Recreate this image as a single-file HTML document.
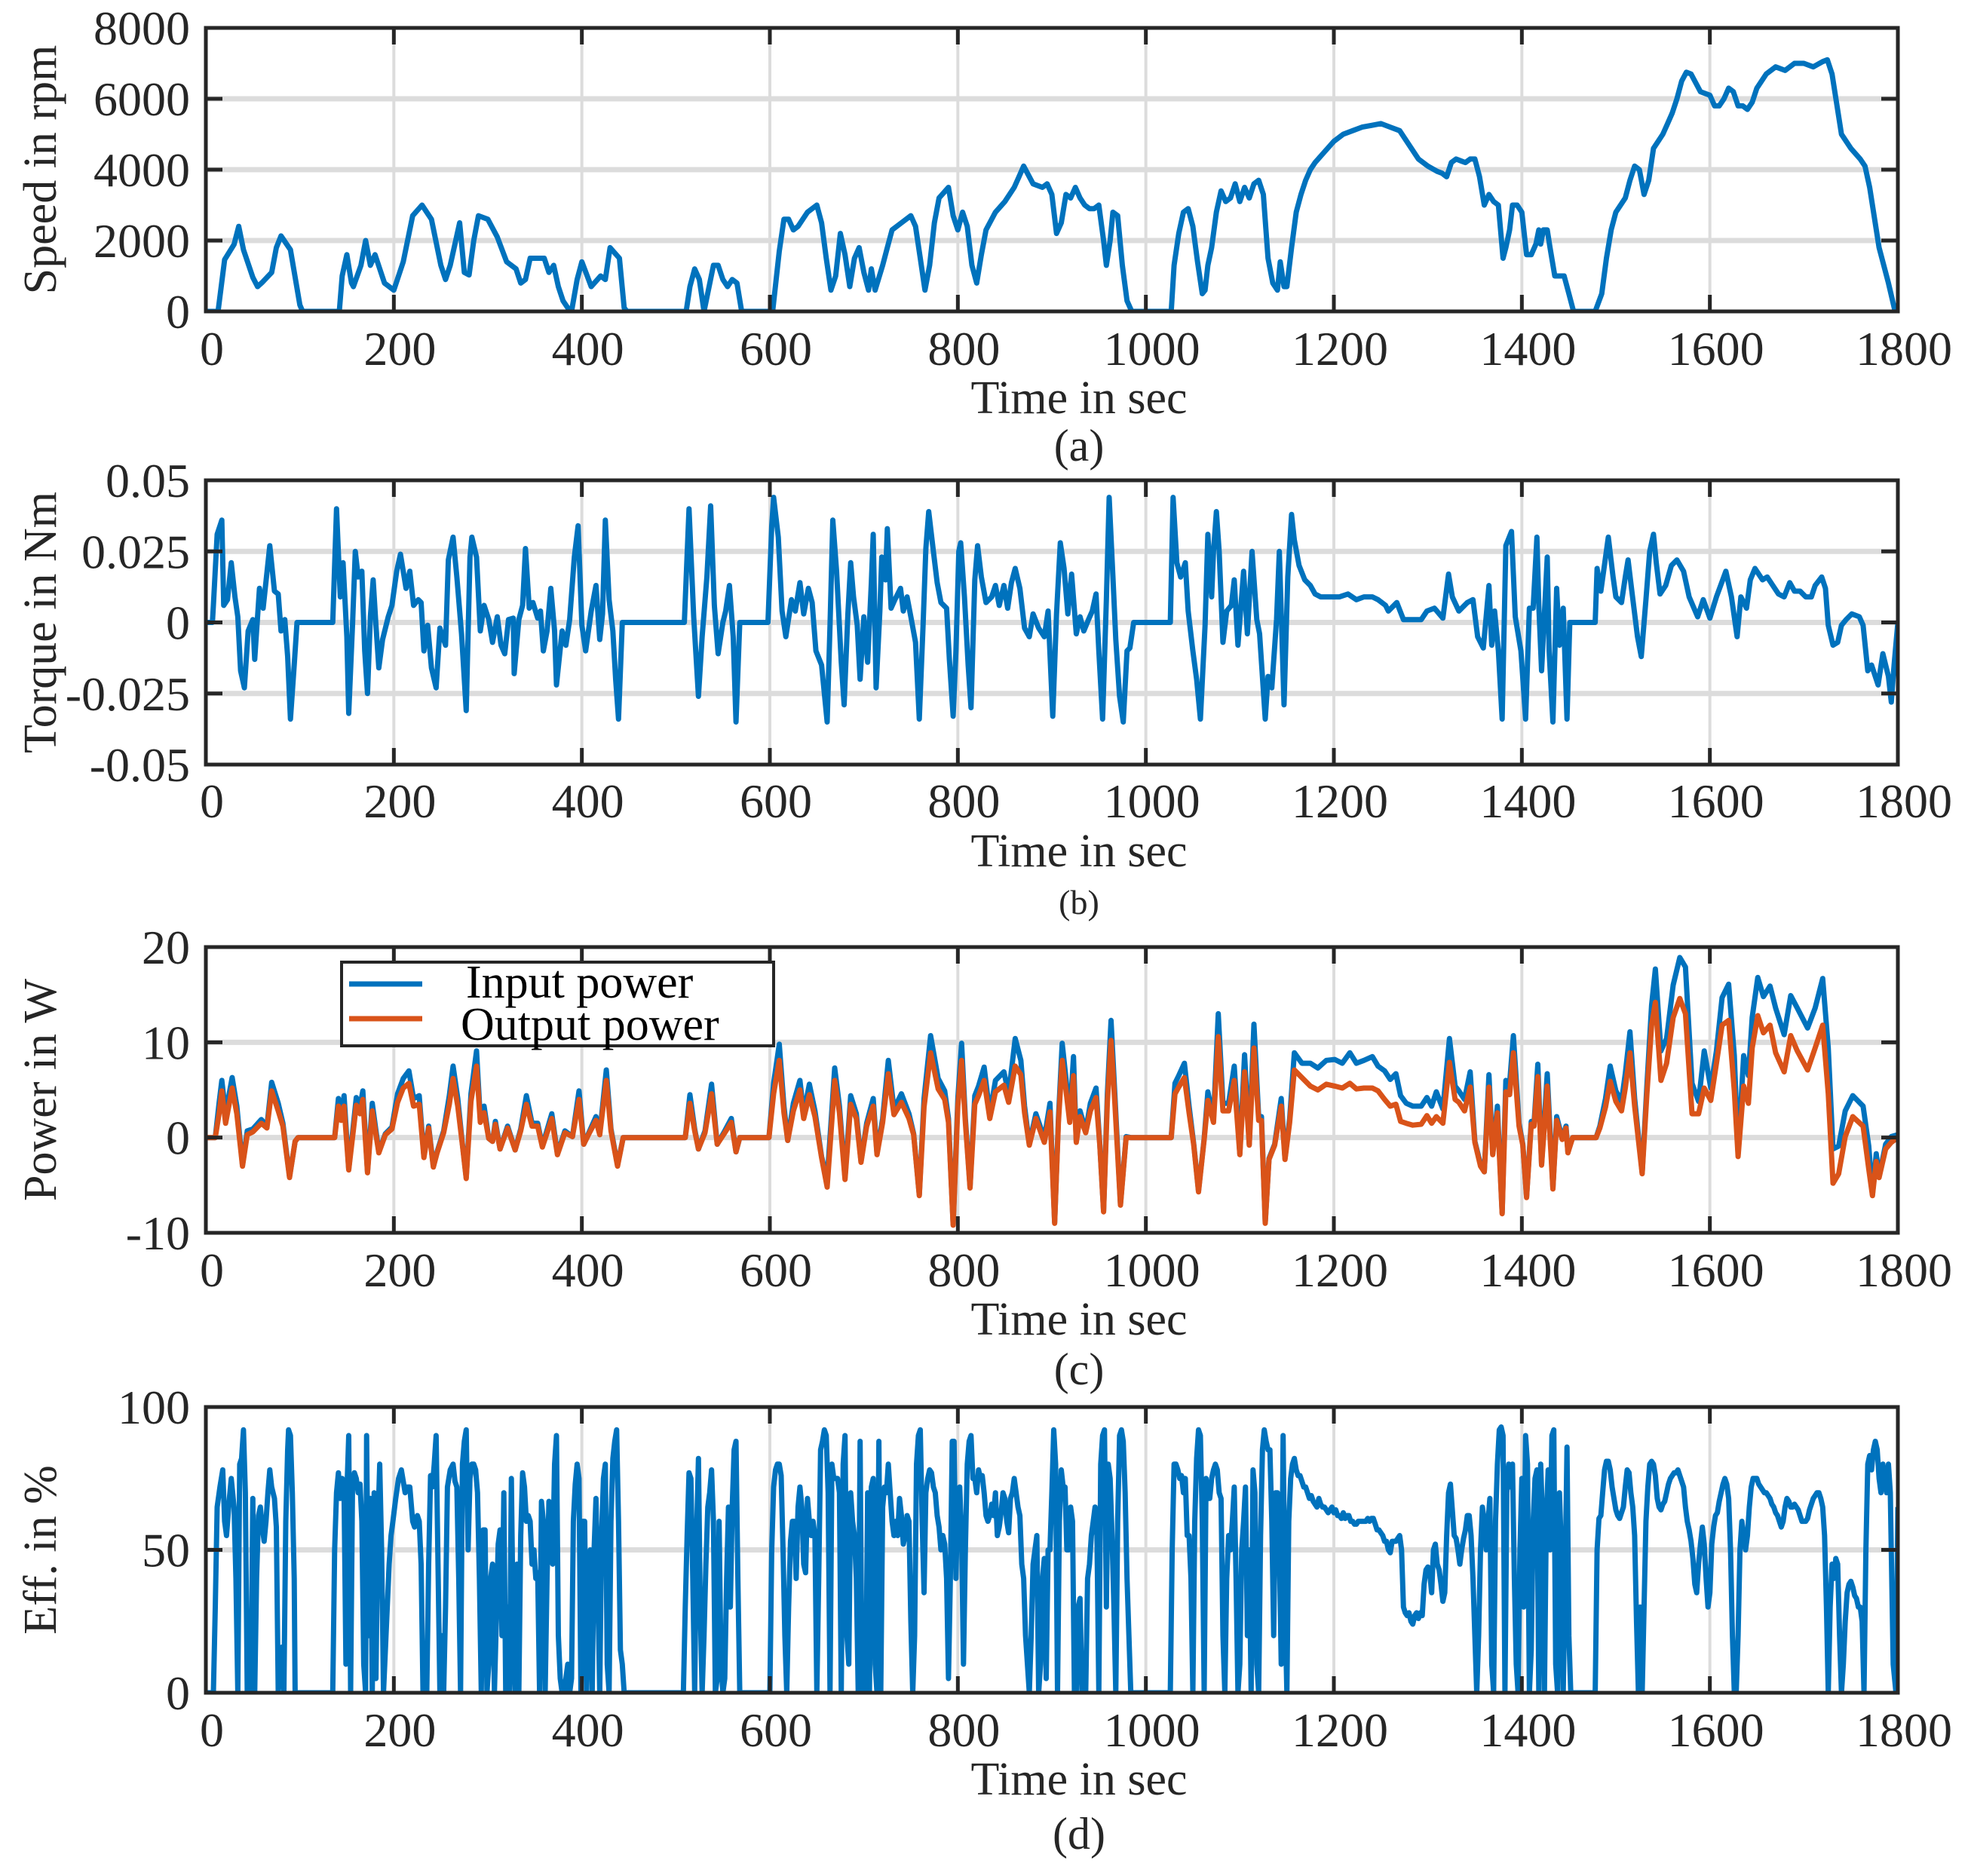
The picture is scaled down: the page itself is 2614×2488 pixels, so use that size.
<!DOCTYPE html>
<html><head><meta charset="utf-8"><style>
html,body{margin:0;padding:0;background:#fff;}
svg{display:block;font-family:"Liberation Serif","Times New Roman",serif;}
</style></head><body>
<svg id="fig" width="2614" height="2488" viewBox="0 0 2614 2488" xmlns="http://www.w3.org/2000/svg">
<rect width="2614" height="2488" fill="#fff"/>
</svg>
<script>
// ---- data ----
const xTicks = [0,200,400,600,800,1000,1200,1400,1600,1800];
const speedTicks = [0,2000,4000,6000,8000];
const torqueTicks = [-50,-25,0,25,50];
const torqueTickLabels = ["-0.05","-0.025","0","0.025","0.05"];
const powerTicks = [-10,0,10,20];
const effTicks = [0,50,100];

const speedData = [[0,0],[10,0],[13,0],[20,1460],[30,1890],[35,2400],[40,1740],[50,960],[55,700],[60,820],[70,1100],[75,1800],[80,2130],[90,1740],[100,180],[103,0],[140,0],[142,0],[145,1000],[150,1600],[155,800],[157,700],[165,1300],[170,2000],[175,1300],[180,1600],[190,800],[200,600],[210,1400],[220,2700],[230,3000],[240,2600],[250,1300],[255,900],[260,1300],[270,2500],[275,1100],[280,1030],[285,2000],[290,2700],[300,2600],[310,2100],[320,1400],[330,1200],[335,800],[340,900],[345,1500],[350,1500],[360,1500],[365,1100],[370,1300],[375,700],[380,300],[385,100],[389,0],[395,900],[400,1400],[410,700],[420,1000],[425,900],[430,1800],[440,1500],[445,100],[448,0],[511,0],[515,700],[520,1200],[525,900],[530,0],[540,1300],[545,1300],[550,900],[555,700],[560,900],[565,800],[570,0],[603,0],[610,1700],[615,2600],[620,2600],[625,2300],[630,2400],[640,2800],[650,3000],[655,2500],[660,1500],[665,600],[670,1000],[675,2200],[680,1600],[685,700],[690,1500],[695,1800],[700,1100],[705,600],[708,1200],[712,600],[720,1300],[725,1800],[730,2300],[740,2500],[750,2700],[755,2400],[760,1500],[765,600],[770,1300],[775,2500],[780,3200],[790,3500],[795,2700],[800,2300],[805,2800],[810,2400],[815,1300],[820,800],[825,1600],[830,2300],[840,2800],[850,3100],[860,3500],[865,3800],[870,4100],[880,3600],[890,3500],[895,3600],[900,3300],[905,2200],[910,2500],[915,3300],[920,3200],[925,3500],[930,3200],[935,3000],[940,2900],[945,2900],[950,3000],[955,2000],[958,1300],[962,2000],[965,2800],[970,2700],[975,1300],[980,300],[985,0],[1027,0],[1030,1300],[1035,2200],[1040,2800],[1045,2900],[1050,2400],[1055,1400],[1060,500],[1063,600],[1066,1300],[1070,1800],[1075,2800],[1080,3400],[1085,3100],[1090,3200],[1095,3600],[1100,3100],[1105,3500],[1110,3200],[1115,3600],[1120,3700],[1125,3300],[1130,1500],[1135,800],[1140,600],[1143,1400],[1147,700],[1150,700],[1155,1800],[1160,2800],[1165,3300],[1170,3700],[1175,4000],[1180,4200],[1190,4500],[1200,4800],[1210,5000],[1220,5100],[1230,5200],[1240,5250],[1250,5300],[1260,5200],[1270,5100],[1280,4700],[1290,4300],[1300,4100],[1310,3950],[1315,3900],[1320,3800],[1325,4200],[1330,4300],[1335,4250],[1340,4200],[1345,4300],[1350,4300],[1355,3800],[1360,3000],[1365,3300],[1370,3100],[1375,3000],[1380,1500],[1383,1800],[1387,2300],[1390,3000],[1395,3000],[1400,2800],[1405,1600],[1410,1600],[1415,1900],[1418,2300],[1420,1900],[1423,2300],[1427,2300],[1430,1800],[1435,1000],[1440,1000],[1445,1000],[1450,500],[1455,0],[1478,0],[1485,500],[1490,1500],[1495,2300],[1500,2800],[1510,3200],[1515,3700],[1520,4100],[1525,4000],[1530,3300],[1535,3700],[1540,4600],[1545,4800],[1550,5000],[1555,5300],[1560,5600],[1565,6000],[1570,6500],[1575,6750],[1580,6700],[1590,6200],[1600,6100],[1605,5800],[1610,5800],[1615,6000],[1620,6300],[1625,6200],[1630,5800],[1635,5800],[1640,5700],[1645,5900],[1650,6300],[1660,6700],[1670,6900],[1680,6800],[1690,7000],[1700,7000],[1710,6900],[1720,7050],[1725,7100],[1730,6700],[1740,5000],[1750,4600],[1760,4300],[1765,4100],[1770,3500],[1780,1800],[1790,800],[1797,0],[1800,0]];

// torque in thousandths of N·m
const torqueMilli = [[0,0],[7,0],[8,6],[12,31],[17,36],[19,6],[23,8],[27,21],[31,9],[34,2],[37,-17],[41,-23],[45,-3],[50,1],[52,-13],[57,12],[61,5],[68,27],[73,11],[77,10],[80,-3],[84,1],[87,-12],[90,-34],[94,-15],[97,0],[135,0],[139,40],[143,9],[146,21],[150,-5],[152,-32],[156,-1],[159,25],[162,16],[166,18],[169,-10],[172,-25],[175,2],[178,15],[181,-1],[184,-16],[188,-6],[194,2],[198,6],[203,18],[207,24],[213,12],[217,18],[221,6],[226,8],[229,7],[232,-10],[236,-1],[240,-16],[245,-23],[249,-2],[255,-8],[258,22],[263,30],[267,16],[272,-4],[277,-31],[281,23],[283,30],[288,23],[292,-3],[296,6],[301,1],[305,-7],[310,2],[314,-8],[318,-11],[322,1],[327,1.5],[328,-18],[333,1],[337,6],[340,26],[344,5],[348,7],[353,1.5],[356,4],[359,-10],[363,-3],[367,12],[371,-3],[373,-22],[379,-3],[383,-8],[387,1],[392,23],[396,34],[400,-1],[404,-10],[410,4],[415,13],[419,-6],[422,3],[425,36],[429,8],[433,-3],[436,-20],[439,-34],[443,0],[509,0],[514,40],[519,2],[524,-26],[528,-5],[533,16],[537,41],[541,6],[545,-11],[550,0],[553,4],[557,13],[561,-5],[564,-35],[568,0],[598,0],[602,34],[604,44],[609,30],[613,4],[617,-5],[623,8],[627,4],[632,14],[636,3],[641,12],[645,7],[649,-10],[655,-15],[661,-35],[664,-1],[667,36],[671,18],[676,-14],[679,-29],[683,3],[686,21],[689,9],[693,-1],[696,-20],[700,2],[704,-14],[708,14],[710,31],[713,-23],[717,4],[719,23],[723,15],[725,33],[729,5],[733,8],[739,12],[742,4],[746,9],[750,2],[755,-7],[759,-34],[763,-1],[766,26],[769,39],[774,25],[778,14],[782,7],[788,5],[791,-13],[795,-33],[798,-10],[801,25],[803,28],[807,9],[811,-15],[814,-30],[818,15],[821,27],[825,16],[830,7],[836,9],[840,13],[844,6],[849,13],[853,5],[857,14],[861,19],[866,12],[871,-2],[876,-5],[880,3],[886,-2],[892,-5],[896,4],[901,-33],[905,3],[909,28],[913,19],[917,3],[921,17],[926,-4],[930,2],[934,-3],[939,1],[943,4],[947,10],[950,-10],[954,-34],[958,8],[961,44],[965,16],[968,-6],[972,-26],[976,-35],[980,-10],[983,-9],[987,0],[1026,0],[1029,44],[1033,21],[1037,16],[1042,21],[1045,4],[1050,-10],[1054,-20],[1058,-34],[1063,-1],[1066,31],[1070,9],[1072,25],[1075,39],[1078,25],[1082,-7],[1086,4],[1091,6],[1094,15],[1098,-8],[1104,18],[1108,-4],[1113,25],[1118,1],[1121,-4],[1127,-34],[1130,-19],[1134,-23],[1139,1],[1142,25],[1147,-29],[1151,16],[1155,38],[1158,29],[1163,20],[1169,15],[1175,13],[1180,10],[1186,9],[1192,9],[1198,9],[1206,9],[1215,10],[1224,8],[1232,9],[1241,9],[1247,8],[1255,6],[1258,4],[1267,7],[1274,1],[1284,1],[1293,1],[1299,4],[1307,5],[1316,1.5],[1322,17],[1326,9],[1333,4],[1342,7],[1348,8],[1353,-5],[1359,-9],[1362,2],[1365,13],[1368,-8],[1371,4],[1375,-10],[1379,-34],[1383,27],[1389,32],[1393,2],[1399,-10],[1404,-34],[1408,5],[1412,5],[1416,30],[1418,6],[1421,-17],[1427,23],[1429,-10],[1433,-35],[1437,12],[1440,-8],[1444,5],[1448,-34],[1451,0],[1478,0],[1480,19],[1484,11],[1492,30],[1497,16],[1500,9],[1506,7],[1510,16],[1513,22],[1517,11],[1523,-5],[1527,-12],[1532,8],[1536,25],[1540,31],[1543,21],[1547,10],[1553,13],[1559,20],[1565,22],[1572,18],[1578,9],[1587,2],[1593,8],[1600,1.5],[1607,9],[1617,18],[1623,9],[1629,-5],[1633,9],[1639,5],[1643,15],[1648,19],[1656,15],[1661,16],[1667,13],[1673,10],[1679,9],[1685,14],[1690,11],[1696,11],[1702,9],[1708,9],[1712,13],[1719,16],[1723,12],[1726,-1],[1731,-8],[1736,-7],[1740,-1],[1745,1],[1751,3],[1759,2],[1763,-1],[1768,-17],[1772,-15],[1779,-22],[1784,-11],[1790,-19],[1793,-28],[1796,-15],[1800,0]];

// [time, input power, output power]
const powerSamples = [[0,0,0],[10,0,0],[14,3.6,2.5],[17,6,4.9],[21,2.5,1.5],[28,6.3,5.2],[33,3.3,2.5],[39,-2.9,-3],[44,0.7,0.3],[50,0.9,0.6],[59,1.9,1.5],[65,1.2,1],[70,5.8,4.9],[77,3.6,2.8],[82,1.5,1.2],[89,-4.1,-4.2],[95,-0.4,-0.4],[98,0,0],[137,0,0],[141,4.1,3.3],[144,2.2,1.8],[147,4.4,3.3],[152,-3.3,-3.4],[160,4.2,3.4],[164,3.3,2.5],[167,4.9,4],[172,-3.6,-3.7],[177,3.6,2.8],[184,-1.5,-1.6],[191,0.4,0.3],[198,1.1,0.9],[204,4.6,3.7],[210,6.2,5.2],[216,7,5.7],[221,4.1,3.3],[227,4.4,3.5],[232,-2,-2.1],[237,1.2,1],[242,-3,-3.1],[246,-1.5,-1.6],[253,0.7,0.5],[259,4.4,3.5],[263,7.5,6.2],[268,4.1,3.3],[273,-0.7,-0.8],[277,-4.2,-4.3],[282,4.6,3.8],[288,9.1,7.5],[292,2,1.6],[296,3.3,2.6],[301,-0.1,-0.1],[305,-0.4,-0.4],[308,1.7,1.4],[313,-1.2,-1.2],[321,1.2,1],[329,-1.3,-1.3],[335,0.9,0.7],[341,4.4,3.5],[347,1.5,1.2],[353,1.5,1.2],[358,-0.9,-1],[368,2.5,2],[374,-1.7,-1.8],[382,0.7,0.5],[390,0.1,0.1],[397,4.9,4],[402,-0.7,-0.7],[407,0.4,0.3],[415,2.2,1.8],[419,0.4,0.3],[426,7.1,6],[431,0.9,0.7],[438,-2.9,-3],[444,0,0],[510,0,0],[515,4.5,3.6],[520,0.9,0.7],[524,-1.2,-1.2],[531,0.7,0.5],[538,5.6,4.6],[544,-0.7,-0.7],[552,0.7,0.5],[559,2,1.6],[564,-1.5,-1.5],[568,0,0],[599,0,0],[604,5.7,4.6],[610,9.8,8.1],[615,3.3,2.6],[619,-0.3,-0.3],[625,3.6,2.8],[632,6,5],[636,2.5,2],[642,5.6,4.5],[648,2.8,2.2],[655,-2,-2.1],[661,-4.4,-5.2],[669,7.3,6],[674,3.3,2.6],[680,-4.2,-4.4],[686,4.4,3.5],[692,2.5,2],[697,-2.5,-2.6],[703,1.5,1.2],[710,4.1,3.3],[714,-1.7,-1.8],[720,2,1.6],[726,8.1,6.7],[732,3,2.4],[740,4.6,3.7],[748,2.5,2],[753,0.4,0.3],[759,-6,-6.1],[764,4.1,3.2],[771,10.7,8.9],[779,6.2,5.1],[786,4.9,4],[790,2,1.6],[795,-9.1,-9.2],[800,4.1,3.3],[804,9.9,8.1],[808,2,1.6],[813,-5.2,-5.3],[818,4.4,3.5],[822,5.4,4.4],[828,7.4,6],[834,2.5,2],[840,6,4.8],[849,6.9,5.5],[854,4.6,3.7],[861,10.4,7.5],[867,8.1,6.6],[871,3.3,2.6],[876,-0.7,-0.8],[883,2.5,2],[892,-0.1,-0.5],[898,3.6,2.7],[903,-8.9,-9],[907,2,1.6],[911,9.9,8.1],[915,6.2,5],[919,2,1.6],[923,8.5,6.5],[926,-0.4,-0.5],[930,2.8,2.2],[936,0.7,0.5],[941,3.6,2.8],[947,5.2,4.2],[951,-0.7,-0.8],[955,-7.7,-7.8],[959,4.6,3.7],[963,12.3,10.2],[967,4.6,3.7],[973,-7,-7.1],[979,0.1,0],[984,0,0],[1027,0,0],[1031,5.7,4.6],[1035,6.5,5.3],[1041,7.8,6.3],[1046,3.3,2.6],[1051,-0.7,-0.8],[1056,-5.6,-5.7],[1062,-0.1,-0.2],[1066,4.8,3.9],[1072,2,1.6],[1077,13,10.6],[1082,3.6,2.8],[1088,3.6,2.8],[1094,7.5,6],[1100,-1.7,-1.8],[1105,8.7,6.9],[1110,-0.7,-0.8],[1115,11.9,9.4],[1120,2.2,1.8],[1123,2.2,1.8],[1127,-8.9,-9],[1131,-2.2,-2.3],[1137,-0.7,-0.8],[1144,4.1,3.3],[1148,-2.2,-2.3],[1153,2,1.6],[1158,8.9,7.1],[1166,7.8,6.3],[1175,7.8,5.4],[1183,7.3,5],[1192,8.1,5.6],[1201,8.2,5.4],[1209,7.8,5.2],[1217,8.9,5.7],[1224,7.8,5.1],[1232,8.1,5.2],[1241,8.5,5.2],[1247,7.5,4.9],[1254,7,4],[1260,6.1,3.3],[1266,6.7,3.5],[1271,4.4,1.7],[1277,3.6,1.5],[1284,3.3,1.3],[1293,3.3,1.4],[1299,4.2,2.3],[1304,3.3,1.5],[1309,4.8,2.2],[1316,3,1.5],[1323,10.4,7.9],[1329,5.4,4],[1333,4.9,3.7],[1339,4,2.8],[1345,6.9,5.3],[1350,-0.4,-0.5],[1356,-2.8,-3],[1360,-3.6,-3.6],[1365,6.6,5.3],[1369,-1.7,-1.8],[1374,3.3,2.6],[1379,-7.9,-8],[1383,6,4.8],[1387,5.7,4.5],[1391,10.7,8.9],[1397,1.5,1.2],[1401,-0.7,-0.8],[1405,-6.2,-6.3],[1410,1.7,1.4],[1413,1.5,1.2],[1417,7.7,6.4],[1421,-2.8,-2.9],[1427,6.7,5.4],[1433,-5.3,-5.4],[1437,2.2,1.8],[1443,-0.1,-0.2],[1447,1.2,1],[1449,-1.5,-1.6],[1454,0,0],[1479,0,0],[1483,1.2,1],[1489,4.1,3.2],[1494,7.5,5.9],[1500,4.9,3.8],[1506,3.8,2.8],[1510,6.7,5.2],[1515,11.1,8.9],[1520,4.1,3.3],[1528,-3.7,-3.8],[1533,5.4,4.5],[1538,13.9,11.8],[1542,17.7,14.2],[1548,9.1,6],[1554,10.4,7.8],[1561,16,12.6],[1568,18.9,14.6],[1574,17.9,13],[1581,5.7,2.5],[1588,3.8,2.5],[1594,9.1,5.2],[1601,5.2,3.9],[1607,9.1,7.8],[1613,14.7,11.8],[1620,16.1,12.3],[1626,8.6,4.9],[1630,-1.7,-2],[1636,8.6,5.4],[1641,6.5,3.6],[1645,12.6,9.4],[1651,16.8,12.8],[1657,14.8,11],[1664,15.9,11.8],[1670,13.6,8.9],[1679,10.8,6.9],[1686,14.9,10.7],[1693,13.6,9.1],[1704,11.5,7.1],[1712,13.6,9.4],[1720,16.7,11.8],[1726,9.4,4.6],[1731,-1.2,-4.8],[1737,-0.9,-3.8],[1744,2.8,0.1],[1752,4.4,2.2],[1763,3.3,1.2],[1769,-0.9,-3.3],[1773,-6,-6.1],[1777,-1.7,-2.5],[1780,-4.1,-4.2],[1787,-0.7,-1.2],[1793,0.1,-0.5],[1800,0.3,0]];

const effData = [[0,0],[8,0],[10,30],[12,65],[15,72],[18,78],[20,60],[22,55],[25,68],[27,75],[30,65],[32,40],[34,0],[36,80],[38,82],[40,92],[42,70],[44,0],[46,10],[48,0],[50,68],[52,0],[54,40],[56,62],[58,65],[60,58],[62,53],[64,60],[66,70],[68,78],[70,72],[73,68],[75,58],[77,0],[79,15],[81,16],[83,0],[85,60],[87,85],[88,92],[90,90],[92,70],[94,40],[95,0],[135,0],[137,50],[139,70],[141,77],[143,68],[145,75],[147,70],[149,10],[150,70],[152,90],[154,0],[156,72],[158,77],[160,75],[162,70],[164,73],[166,60],[168,10],[170,0],[171,90],[173,20],[175,68],[177,0],[179,70],[181,5],[183,58],[185,80],[187,50],[189,0],[191,15],[193,30],[195,45],[197,55],[199,60],[202,68],[205,75],[208,78],[210,74],[212,70],[214,72],[217,72],[220,60],[222,58],[225,62],[227,60],[229,45],[231,0],[235,0],[237,45],[239,76],[241,72],[243,80],[245,90],[247,45],[249,0],[251,20],[253,0],[255,30],[257,72],[260,78],[263,80],[265,74],[267,72],[269,40],[271,0],[273,80],[275,88],[277,92],[279,50],[281,75],[283,80],[285,80],[287,78],[289,70],[291,40],[293,0],[295,57],[297,57],[299,0],[301,10],[303,40],[305,45],[307,0],[309,25],[311,52],[313,57],[315,20],[317,70],[319,0],[321,30],[323,0],[325,75],[327,20],[329,0],[331,45],[333,0],[335,55],[337,77],[339,72],[341,60],[343,62],[345,60],[347,45],[349,50],[351,40],[353,42],[355,0],[357,67],[359,60],[361,0],[363,40],[365,67],[367,50],[369,45],[371,80],[373,90],[375,20],[377,5],[379,0],[381,0],[383,5],[385,10],[387,0],[389,5],[391,60],[393,73],[395,80],[397,75],[399,0],[401,60],[403,60],[405,0],[407,45],[409,50],[411,0],[413,50],[415,68],[417,35],[419,0],[421,55],[423,75],[425,80],[427,10],[429,0],[431,60],[433,82],[435,88],[437,92],[439,60],[441,15],[443,10],[445,0],[508,0],[510,30],[512,55],[514,77],[516,75],[518,40],[520,0],[522,55],[524,82],[526,30],[528,0],[530,20],[532,45],[534,65],[536,70],[538,78],[540,60],[542,0],[544,5],[546,60],[548,10],[550,0],[552,5],[554,40],[556,65],[558,30],[560,65],[562,85],[564,88],[566,40],[568,0],[600,0],[602,50],[604,72],[606,78],[608,80],[610,80],[612,76],[614,50],[616,20],[618,0],[620,30],[622,53],[624,60],[626,60],[628,40],[630,65],[632,72],[634,65],[636,45],[638,42],[640,68],[642,60],[644,55],[646,60],[648,55],[650,0],[652,40],[654,85],[656,88],[658,92],[660,90],[662,70],[664,0],[666,80],[668,75],[670,75],[672,75],[674,70],[676,0],[678,80],[680,90],[682,20],[684,10],[686,70],[688,60],[690,55],[692,40],[694,0],[696,88],[698,0],[700,5],[702,0],[704,70],[706,0],[708,72],[710,75],[712,10],[714,0],[716,88],[718,0],[720,65],[722,72],[724,70],[726,80],[728,70],[730,60],[732,55],[734,60],[736,55],[738,68],[740,62],[742,52],[744,55],[746,62],[748,60],[750,25],[752,0],[754,20],[756,80],[758,90],[760,92],[762,60],[764,35],[766,70],[768,75],[770,78],[772,77],[774,72],[776,70],[778,62],[780,58],[782,50],[784,55],[786,52],[788,40],[790,5],[792,40],[794,88],[796,88],[798,40],[800,70],[802,72],[804,55],[806,10],[808,50],[810,80],[812,88],[814,90],[816,75],[818,75],[820,70],[822,78],[824,75],[826,76],[828,70],[830,62],[832,60],[834,62],[836,66],[838,62],[840,70],[842,55],[844,58],[846,63],[848,70],[850,68],[852,60],[854,56],[856,68],[858,70],[860,75],[862,70],[864,65],[866,62],[868,45],[870,40],[872,20],[874,10],[876,0],[878,20],[880,45],[882,50],[884,55],[886,0],[888,10],[890,40],[892,47],[894,5],[896,50],[898,50],[900,70],[902,92],[904,80],[906,0],[908,60],[910,78],[912,72],[914,72],[916,50],[918,50],[920,65],[922,60],[924,0],[926,0],[928,30],[930,33],[932,0],[934,10],[936,0],[938,40],[940,45],[942,55],[944,60],[946,65],[948,55],[950,0],[952,80],[954,90],[956,92],[958,30],[960,80],[962,75],[964,55],[966,30],[968,0],[970,60],[972,90],[974,92],[976,88],[978,70],[980,40],[982,20],[984,0],[1026,0],[1028,50],[1030,80],[1032,80],[1034,78],[1036,75],[1038,76],[1040,70],[1042,75],[1044,55],[1046,55],[1048,40],[1050,0],[1052,60],[1054,82],[1056,92],[1058,90],[1060,60],[1062,0],[1064,75],[1066,68],[1068,68],[1070,75],[1072,78],[1074,80],[1076,78],[1078,70],[1080,68],[1082,20],[1084,0],[1086,40],[1088,55],[1090,50],[1092,60],[1094,72],[1096,40],[1098,0],[1100,10],[1102,50],[1104,60],[1106,72],[1108,20],[1110,50],[1112,0],[1114,78],[1116,70],[1118,10],[1120,0],[1122,55],[1124,85],[1126,92],[1128,88],[1130,85],[1132,85],[1134,60],[1136,20],[1138,70],[1140,70],[1142,50],[1144,10],[1146,90],[1148,30],[1150,0],[1152,60],[1154,75],[1156,80],[1158,82],[1160,78],[1162,76],[1164,76],[1166,74],[1168,72],[1170,72],[1172,70],[1174,68],[1176,69],[1178,67],[1180,66],[1182,65],[1184,68],[1186,66],[1188,65],[1190,65],[1192,64],[1194,63],[1196,64],[1198,65],[1200,63],[1202,64],[1204,62],[1206,62],[1208,61],[1210,63],[1212,61],[1214,62],[1216,62],[1218,60],[1220,60],[1222,59],[1224,59],[1226,60],[1228,60],[1230,60],[1234,60],[1236,61],[1238,60],[1240,61],[1242,61],[1244,59],[1246,57],[1248,57],[1250,56],[1252,55],[1254,53],[1256,53],[1258,50],[1260,49],[1262,53],[1264,53],[1266,53],[1268,54],[1270,55],[1272,50],[1274,30],[1276,28],[1278,27],[1280,28],[1282,25],[1284,24],[1286,27],[1288,28],[1290,26],[1292,28],[1294,27],[1296,38],[1298,43],[1300,44],[1302,42],[1304,35],[1306,50],[1308,52],[1310,45],[1312,43],[1314,38],[1316,32],[1318,35],[1320,55],[1322,70],[1324,73],[1326,64],[1328,55],[1330,54],[1332,50],[1334,45],[1336,50],[1338,54],[1340,57],[1342,62],[1344,62],[1346,55],[1348,40],[1350,20],[1352,0],[1354,20],[1356,50],[1358,65],[1360,60],[1362,50],[1364,60],[1366,68],[1368,10],[1370,0],[1372,60],[1374,80],[1376,92],[1378,93],[1380,90],[1382,0],[1384,70],[1386,80],[1388,72],[1390,80],[1392,40],[1394,10],[1396,0],[1398,50],[1400,75],[1402,30],[1404,90],[1406,80],[1408,0],[1410,15],[1412,60],[1414,75],[1416,78],[1418,0],[1420,80],[1422,60],[1424,0],[1426,60],[1428,78],[1430,50],[1432,90],[1434,92],[1436,10],[1438,0],[1440,70],[1442,50],[1444,0],[1446,40],[1448,86],[1450,20],[1452,0],[1478,0],[1480,50],[1482,61],[1484,62],[1486,70],[1488,78],[1490,81],[1492,81],[1494,78],[1496,72],[1498,68],[1500,64],[1502,62],[1504,61],[1506,63],[1508,65],[1510,72],[1512,78],[1514,77],[1516,70],[1518,65],[1520,55],[1522,25],[1524,0],[1526,30],[1528,0],[1530,30],[1532,60],[1534,72],[1536,80],[1538,81],[1540,80],[1542,76],[1544,68],[1546,65],[1548,64],[1550,66],[1552,67],[1554,70],[1556,73],[1558,75],[1560,76],[1562,77],[1564,77],[1566,78],[1568,76],[1570,74],[1572,72],[1574,65],[1576,60],[1578,57],[1580,53],[1582,47],[1584,38],[1586,35],[1588,45],[1590,52],[1592,58],[1594,52],[1596,40],[1598,30],[1600,35],[1602,52],[1604,58],[1606,62],[1608,63],[1610,67],[1612,70],[1614,73],[1616,75],[1618,73],[1620,68],[1622,50],[1624,20],[1626,0],[1628,0],[1630,20],[1632,50],[1634,60],[1636,55],[1638,50],[1640,55],[1642,65],[1644,72],[1646,75],[1648,75],[1650,75],[1652,73],[1654,72],[1656,71],[1658,70],[1660,70],[1662,69],[1664,68],[1666,66],[1668,65],[1670,63],[1672,62],[1674,60],[1676,58],[1678,60],[1680,65],[1682,68],[1684,67],[1686,65],[1688,65],[1690,66],[1692,65],[1694,64],[1696,62],[1698,60],[1700,60],[1702,60],[1704,61],[1706,64],[1708,66],[1710,68],[1712,69],[1714,70],[1716,70],[1718,68],[1720,65],[1722,55],[1724,30],[1726,0],[1728,30],[1730,45],[1732,40],[1734,47],[1736,45],[1738,20],[1740,0],[1742,10],[1744,25],[1746,35],[1748,38],[1750,39],[1752,37],[1754,34],[1756,33],[1758,30],[1760,30],[1762,25],[1764,0],[1766,50],[1768,80],[1770,83],[1772,78],[1774,85],[1776,88],[1778,85],[1780,75],[1782,70],[1784,80],[1786,75],[1788,70],[1790,80],[1792,70],[1795,10],[1798,0],[1800,65]];

// ---- layout ----
const NS = "http://www.w3.org/2000/svg";
const svg = document.getElementById('fig');
const X0 = 273, X1 = 2517, TMAX = 1800;
const xScale = t => X0 + (t / TMAX) * (X1 - X0);
const INK = "#262626";
const FONT = 'font-family:"Liberation Serif","Times New Roman",serif';

function mk(tag, attrs, parent) {
  const e = document.createElementNS(NS, tag);
  for (const k in attrs) e.setAttribute(k, attrs[k]);
  (parent || svg).appendChild(e);
  return e;
}

function panel(cfg) {
  const {id, top, bottom, ymin, ymax, yticks, ylabels, ytitle, caption, captionSize, captionY, titleY, tickY} = cfg;
  const yScale = v => bottom - (v - ymin) / (ymax - ymin) * (bottom - top);
  const g = mk('g', {});
  
  
  const clip = mk('clipPath', {id: id + '-clip'}, g);
  mk('rect', {x: X0, y: top, width: X1 - X0, height: bottom - top}, clip);
  const grid = mk('g', {}, g);
  
  
  xTicks.forEach(t => {
    if (t === 0 || t === TMAX) return;
    const gl = mk('line', {x1: xScale(t), x2: xScale(t), y1: top, y2: bottom, stroke: '#dcdcdc', 'stroke-width': 4}, grid);
    
    
  });
  yticks.forEach(v => {
    if (v === ymin || v === ymax) return;
    const gl = mk('line', {x1: X0, x2: X1, y1: yScale(v), y2: yScale(v), stroke: '#dcdcdc', 'stroke-width': 7}, grid);
    
    
  });
  const sg = mk('g', {'clip-path': 'url(#' + id + '-clip)'}, g);
  
  
  cfg.series.forEach(s => {
    const d = s.points.map((p, i) => (i ? 'L' : 'M') + xScale(p[0]).toFixed(1) + ',' + yScale(p[1]).toFixed(1)).join('');
    const path = mk('path', {d: d, fill: 'none', stroke: s.color, 'stroke-width': 7, 'stroke-linejoin': 'round'}, sg);
    
    
  });
  const box = mk('rect', {x: X0, y: top, width: X1 - X0, height: bottom - top, fill: 'none', stroke: INK, 'stroke-width': 5}, g);
  
  
  xTicks.forEach(t => {
    const x = xScale(t);
    mk('line', {x1: x, x2: x, y1: bottom, y2: bottom - 22, stroke: INK, 'stroke-width': 5}, g);
    mk('line', {x1: x, x2: x, y1: top, y2: top + 22, stroke: INK, 'stroke-width': 5}, g);
    const tl = mk('text', {x: x + 8, y: tickY, 'text-anchor': 'middle', 'font-size': 64, fill: INK, style: FONT}, g);
    tl.textContent = String(t);
    
    
  });
  yticks.forEach((v, i) => {
    const y = yScale(v);
    mk('line', {x1: X0, x2: X0 + 22, y1: y, y2: y, stroke: INK, 'stroke-width': 5}, g);
    mk('line', {x1: X1, x2: X1 - 22, y1: y, y2: y, stroke: INK, 'stroke-width': 5}, g);
    const tl = mk('text', {x: 252, y: y + 22, 'text-anchor': 'end', 'font-size': 64, fill: INK, style: FONT}, g);
    tl.textContent = ylabels[i];
    
    
  });
  const yt = mk('text', {x: 0, y: 0, transform: 'translate(74,' + ((top + bottom) / 2) + ') rotate(-90)', 'text-anchor': 'middle', 'font-size': 62, fill: INK, style: FONT}, g);
  yt.textContent = ytitle;
  
  
  const xt = mk('text', {x: (X0 + X1) / 2 + 36, y: titleY, 'text-anchor': 'middle', 'font-size': 62, fill: INK, style: FONT}, g);
  xt.textContent = 'Time in sec';
  
  
  const cp = mk('text', {x: (X0 + X1) / 2 + 36, y: captionY, 'text-anchor': 'middle', 'font-size': captionSize, fill: INK, style: FONT}, g);
  cp.textContent = caption;
  
  
  return {g, yScale};
}

panel({id: 'speed', top: 37, bottom: 413, ymin: 0, ymax: 8000, yticks: speedTicks, ylabels: speedTicks.map(String),
  ytitle: 'Speed in rpm', caption: '(a)', captionSize: 60, tickY: 484, titleY: 548, captionY: 611,
  series: [{name: 'speed-line', color: '#0072BD', points: speedData}]});

panel({id: 'torque', top: 637, bottom: 1014, ymin: -50, ymax: 50, yticks: torqueTicks, ylabels: torqueTickLabels,
  ytitle: 'Torque in Nm', caption: '(b)', captionSize: 46, tickY: 1084, titleY: 1149, captionY: 1212,
  series: [{name: 'torque-line', color: '#0072BD', points: torqueMilli}]});

const inPts = powerSamples.map(p => [p[0], p[1]]);
const outPts = powerSamples.map(p => [p[0], p[2]]);
panel({id: 'power', top: 1256, bottom: 1635, ymin: -10, ymax: 20, yticks: powerTicks, ylabels: powerTicks.map(String),
  ytitle: 'Power in W', caption: '(c)', captionSize: 60, tickY: 1706, titleY: 1770, captionY: 1836,
  series: [{name: 'input-power-line', color: '#0072BD', points: inPts}, {name: 'output-power-line', color: '#D95319', points: outPts}]});

panel({id: 'efficiency', top: 1866, bottom: 2245, ymin: 0, ymax: 100, yticks: effTicks, ylabels: effTicks.map(String),
  ytitle: 'Eff. in %', caption: '(d)', captionSize: 60, tickY: 2316, titleY: 2380, captionY: 2452,
  series: [{name: 'efficiency-line', color: '#0072BD', points: effData}]});

// legend
const lg = mk('g', {});


mk('rect', {x: 453, y: 1276, width: 573, height: 111, fill: '#fff', stroke: INK, 'stroke-width': 4}, lg);
const l1 = mk('line', {x1: 463, x2: 560, y1: 1305, y2: 1305, stroke: '#0072BD', 'stroke-width': 7}, lg);


const l2 = mk('line', {x1: 463, x2: 560, y1: 1351, y2: 1351, stroke: '#D95319', 'stroke-width': 7}, lg);


const t1 = mk('text', {x: 618, y: 1323, 'font-size': 62, fill: '#000', style: FONT}, lg);
t1.textContent = 'Input power';


const t2 = mk('text', {x: 611, y: 1379, 'font-size': 62, fill: '#000', style: FONT}, lg);
t2.textContent = 'Output power';


</script>
</body></html>
